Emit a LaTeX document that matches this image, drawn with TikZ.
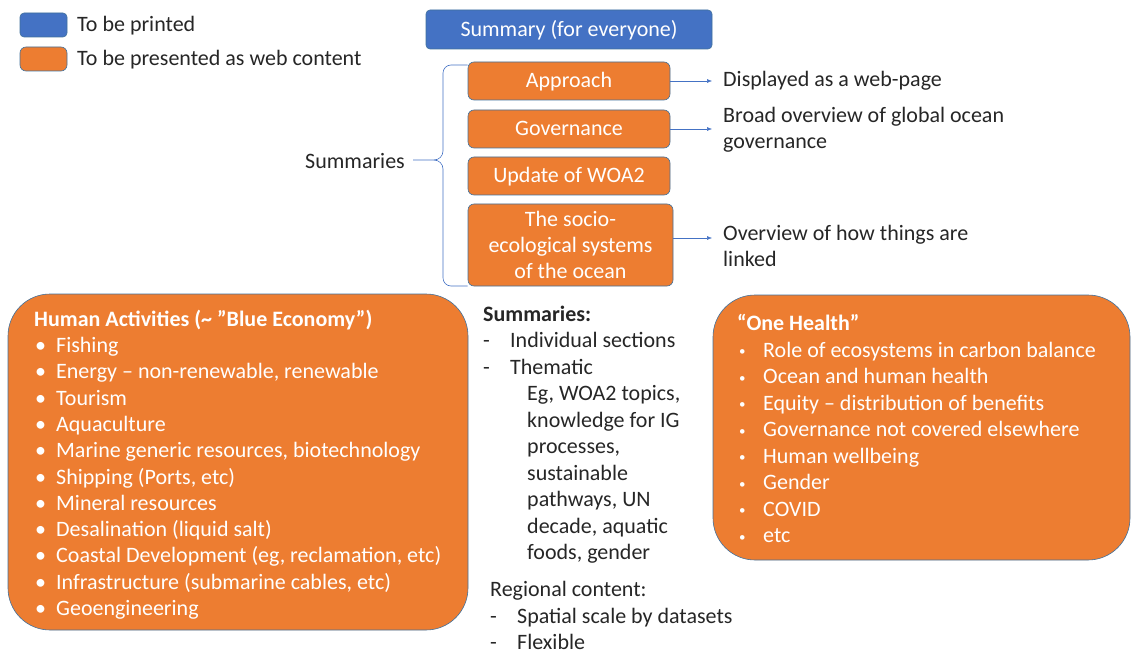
\documentclass[tikz,border=0pt]{standalone}
\usepackage{fontspec}
\setmainfont{Carlito}
\usetikzlibrary{arrows.meta}

\definecolor{printblue}{HTML}{4472C4}
\definecolor{weborange}{HTML}{ED7D31}
\definecolor{edgeblue}{HTML}{41719C}
\definecolor{inkgray}{HTML}{262626}

\newcommand{\dotitem}{\hspace*{1pt}\makebox[21pt][l]{\textbullet}}
\newcommand{\smalldotitem}{\hspace*{2pt}\makebox[24pt][l]{\raisebox{1.5pt}{\fontsize{13}{13}\selectfont\textbullet}}}
\newcommand{\dashitem}{\makebox[27pt][l]{-}}

\begin{document}
\begin{tikzpicture}[
		x=1pt, y=-1pt,
		every node/.style={inner sep=0pt, text=inkgray, font=\fontsize{22}{26.4}\selectfont},
		printbox/.style={rectangle, rounded corners=4pt, draw=edgeblue, fill=printblue, line width=0.6pt, text=white},
		webbox/.style={rectangle, rounded corners=6pt, draw=edgeblue, fill=weborange, line width=0.6pt, text=white, align=center},
		oneline/.style={text height=17pt, text depth=3pt},
		bigbox/.style={webbox, rounded corners=42pt},
		pointer/.style={-{Latex[length=5pt, width=4pt]}, printblue, line width=0.5pt},
		bracket/.style={printblue, line width=0.6pt}
	]
  \useasboundingbox (0, 0) rectangle (1132, 655);

  % legend
  \node (print_key) [printbox, minimum width=47pt, minimum height=24pt] at (43.5, 25) {};
  \node (print_label) [anchor=west] at (77, 26) {To be printed};
  \node (web_key) [webbox, minimum width=47pt, minimum height=24pt] at (43.5, 59) {};
  \node (web_label) [anchor=west] at (77, 60) {To be presented as web content};

  % summaries column
  \node (summary) [printbox, oneline, minimum width=286pt, minimum height=39pt] at (569, 29.5) {Summary (for everyone)};
  \node (approach) [webbox, oneline, minimum width=202pt, minimum height=38pt] at (569, 81) {Approach};
  \node (governance) [webbox, oneline, minimum width=202pt, minimum height=38pt] at (569, 129) {Governance};
  \node (update) [webbox, oneline, minimum width=202pt, minimum height=38pt] at (569, 176) {Update of WOA2};
  \node (socio) [webbox, minimum width=205pt, minimum height=82pt, font=\fontsize{22}{26}\selectfont] at (570.5, 245) {The socio-\\ecological systems\\of the ocean};
  \node (summaries_label) [anchor=west] at (305, 161) {Summaries};

  \coordinate (brace_top) at (approach.west |- 0, 65);
  \coordinate (brace_bot) at (socio.west |- 0, 286);
  \coordinate (brace_tip) at (413, 160);
  \draw [bracket] (brace_top) -- (451, 65) to[out=180, in=90] (443, 73) -- (443, 151)
    to[out=-90, in=0] (434, 160) -- (brace_tip);
  \draw [bracket] (434, 160) to[out=0, in=90] (443, 169) -- (443, 278)
    to[out=-90, in=180] (451, 286) -- (brace_bot);

  % notes
  \node (web_note) [anchor=west] at (723, 81) {Displayed as a web-page};
  \node (broad_note) [anchor=west, align=left] at (723, 130) {Broad overview of global ocean\\governance};
  \node (linked_note) [anchor=west, align=left] at (723, 246) {Overview of how things are\\linked};
  \draw [pointer, shorten >=11pt] (approach.east) -- (approach.east -| web_note.west);
  \draw [pointer, shorten >=11pt] (governance.east) -- (governance.east -| broad_note.west);
  \draw [pointer, shorten >=11pt] ([yshift=7pt]socio.east) -- ([yshift=7pt]socio.east -| linked_note.west);

  % human activities
  \node (human_box) [bigbox, minimum width=460pt, minimum height=336pt] at (238, 462) {};
  \node (human_list) [anchor=base west, align=left, text=white, font=\fontsize{22}{26.3}\selectfont] at (34, 615.5) {%
    \textbf{Human Activities (\textasciitilde{} ”Blue Economy”)}\\
    \dotitem Fishing\\
    \dotitem Energy – non-renewable, renewable\\
    \dotitem Tourism\\
    \dotitem Aquaculture\\
    \dotitem Marine generic resources, biotechnology\\
    \dotitem Shipping (Ports, etc)\\
    \dotitem Mineral resources\\
    \dotitem Desalination (liquid salt)\\
    \dotitem Coastal Development (eg, reclamation, etc)\\
    \dotitem Infrastructure (submarine cables, etc)\\
    \dotitem Geoengineering};

  % middle text
  \node (summaries_list) [anchor=base west, align=left, font=\fontsize{22}{26.5}\selectfont] at (483, 559.5) {%
    \textbf{Summaries:}\\
    \dashitem Individual sections\\
    \dashitem Thematic\\
    \hspace*{44pt}Eg, WOA2 topics,\\
    \hspace*{44pt}knowledge for IG\\
    \hspace*{44pt}processes,\\
    \hspace*{44pt}sustainable\\
    \hspace*{44pt}pathways, UN\\
    \hspace*{44pt}decade, aquatic\\
    \hspace*{44pt}foods, gender};
  \node (regional_list) [anchor=base west, align=left, font=\fontsize{22}{26.5}\selectfont] at (490, 649.5) {%
    Regional content:\\
    \dashitem Spatial scale by datasets\\
    \dashitem Flexible};

  % one health
  \node (health_box) [bigbox, minimum width=417pt, minimum height=265pt] at (921.5, 427.5) {};
  \node (health_list) [anchor=base west, align=left, text=white, font=\fontsize{22}{26.5}\selectfont] at (737, 542.5) {%
    \textbf{“One Health”}\\
    \smalldotitem Role of ecosystems in carbon balance\\
    \smalldotitem Ocean and human health\\
    \smalldotitem Equity – distribution of benefits\\
    \smalldotitem Governance not covered elsewhere\\
    \smalldotitem Human wellbeing\\
    \smalldotitem Gender\\
    \smalldotitem COVID\\
    \smalldotitem etc};
\end{tikzpicture}
\end{document}
